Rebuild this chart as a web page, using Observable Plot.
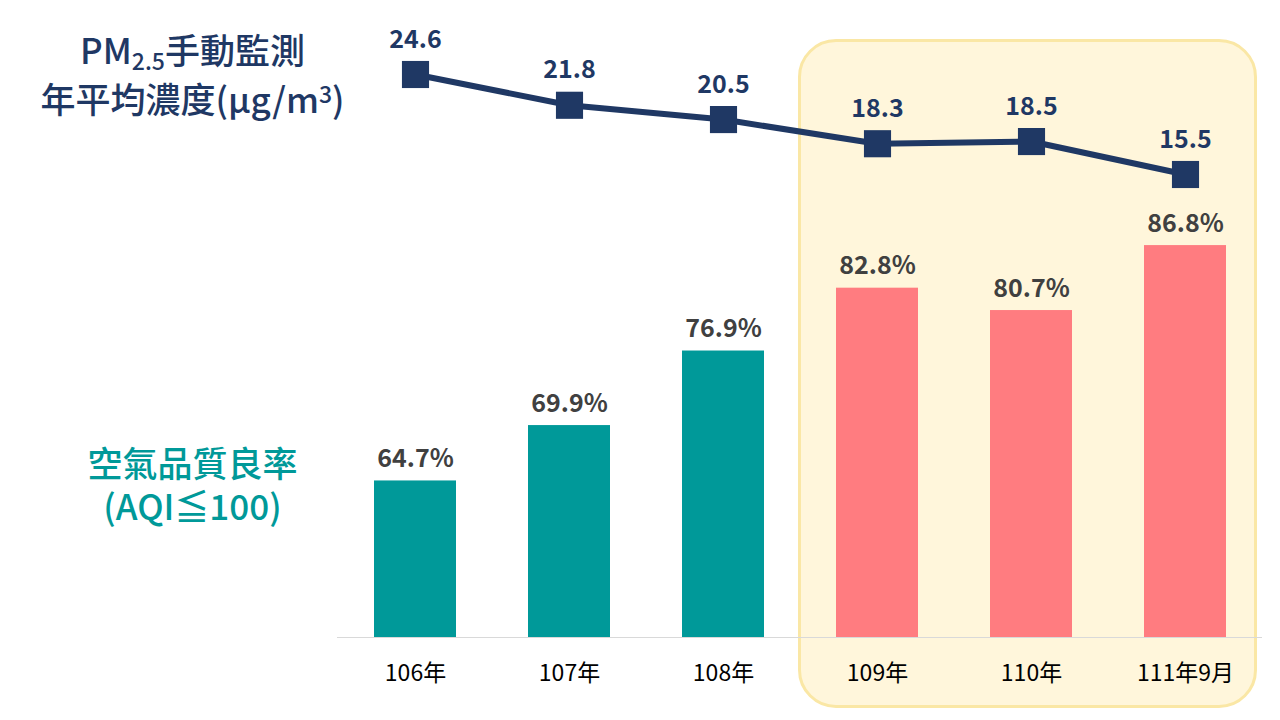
<!DOCTYPE html>
<html>
<head>
<meta charset="utf-8">
<script src="https://cdn.jsdelivr.net/npm/d3@7"></script>
<script src="https://cdn.jsdelivr.net/npm/@observablehq/plot@0.6"></script>
<style>
  html, body { margin: 0; padding: 0; background: #fff; }
  #wrap { position: relative; width: 1280px; height: 720px; overflow: hidden; font-family: "Noto Sans CJK TC", "Noto Sans", sans-serif; }
  #wrap svg { position: absolute; left: 0; top: 0; }
  .lbl { position: absolute; text-align: center; font-weight: 500; white-space: nowrap; }
  #box { position: absolute; background: #FFF6DB; border: 3px solid #FAE7A5; border-radius: 38px; box-sizing: border-box; }
</style>
</head>
<body>
<div id="wrap"></div>
<script>
const years = ["106年", "107年", "108年", "109年", "110年", "111年9月"];
const goodRate = [64.7, 69.9, 76.9, 82.8, 80.7, 86.8];          // 空氣品質良率 (%)
const pm25 = [24.6, 21.8, 20.5, 18.3, 18.5, 15.5];              // PM2.5 年平均濃度
const period = ["past", "past", "past", "recent", "recent", "recent"];
const highlightFrom = "109年";
const highlightTo = "111年9月";

const teal = "#009999", coral = "#FF7C80", navy = "#1F3864";
const data = years.map((y, i) => ({year: y, rate: goodRate[i], pm: pm25[i], period: period[i]}));

const W = 1280, H = 720;
const xOpts = {domain: years, paddingInner: 0.47, paddingOuter: 0.235};
const font = "Noto Sans CJK TC";

const wrap = document.getElementById("wrap");

const bars = Plot.plot({
  width: W, height: H,
  marginLeft: 337, marginRight: 18, marginTop: 104.5, marginBottom: 83,
  style: {background: "transparent", fontFamily: font, fontSize: "23px", color: "#000"},
  x: {...xOpts, tickSize: 0, tickPadding: 27, label: null},
  y: {domain: [50, 100], axis: null},
  color: {domain: ["past", "recent"], range: [teal, coral]},
  marks: [
    Plot.ruleY([50], {stroke: "#D9D9D9", strokeWidth: 1.2}),
    Plot.barY(data, {x: "year", y1: 50, y2: "rate", fill: "period"}),
    Plot.text(data, {x: "year", y: "rate", text: d => d.rate.toFixed(1) + "%", lineAnchor: "middle", dy: -22,
      fill: "#404040", fontSize: 25, fontWeight: 700, fontFamily: font})
  ]
});

const line = Plot.plot({
  width: W, height: H,
  marginLeft: 337, marginRight: 18, marginTop: 74, marginBottom: H - 174,
  style: {background: "transparent", fontFamily: font},
  x: {...xOpts, axis: null},
  y: {domain: [15.5, 24.6], axis: null},
  marks: [
    Plot.line(data, {x: "year", y: "pm", stroke: navy, strokeWidth: 6}),
    Plot.dot(data, {x: "year", y: "pm", symbol: "square", r: 15.3, fill: navy, stroke: "none"}),
    Plot.text(data, {x: "year", y: "pm", text: d => d.pm.toFixed(1), lineAnchor: "middle", dy: -35,
      fill: navy, fontSize: 25, fontWeight: 700, fontFamily: font})
  ]
});

// highlight box using the plot's x scale
const xs = bars.scale("x");
const gap = (xs.step - xs.bandwidth) / 2;
const bx0 = xs.apply(highlightFrom) - gap - 2;
const bx1 = xs.apply(highlightTo) + xs.bandwidth + gap - 5;
const box = document.createElement("div");
box.id = "box";
box.style.left = bx0 + "px";
box.style.width = (bx1 - bx0) + "px";
box.style.top = "39px";
box.style.height = (708 - 39) + "px";
wrap.appendChild(box);

wrap.appendChild(bars);
wrap.appendChild(line);

function addLabel(text, top, color, size) {
  const d = document.createElement("div");
  d.className = "lbl";
  d.style.cssText = `left:20px;width:345px;top:${top}px;font-size:${size}px;line-height:${size}px;color:${color};`;
  d.innerHTML = text;
  wrap.appendChild(d);
}
addLabel(`PM<span style="font-size:23px;position:relative;top:6px;line-height:0;">2.5</span>手動監測`, 31, navy, 35);
addLabel(`年平均濃度(μg/m<span style="font-size:23px;position:relative;top:-10px;line-height:0;">3</span>)`, 80, navy, 35);
addLabel(`空氣品質良率`, 444, teal, 35);
addLabel(`(AQI≦100)`, 487, teal, 35);
</script>
</body>
</html>
